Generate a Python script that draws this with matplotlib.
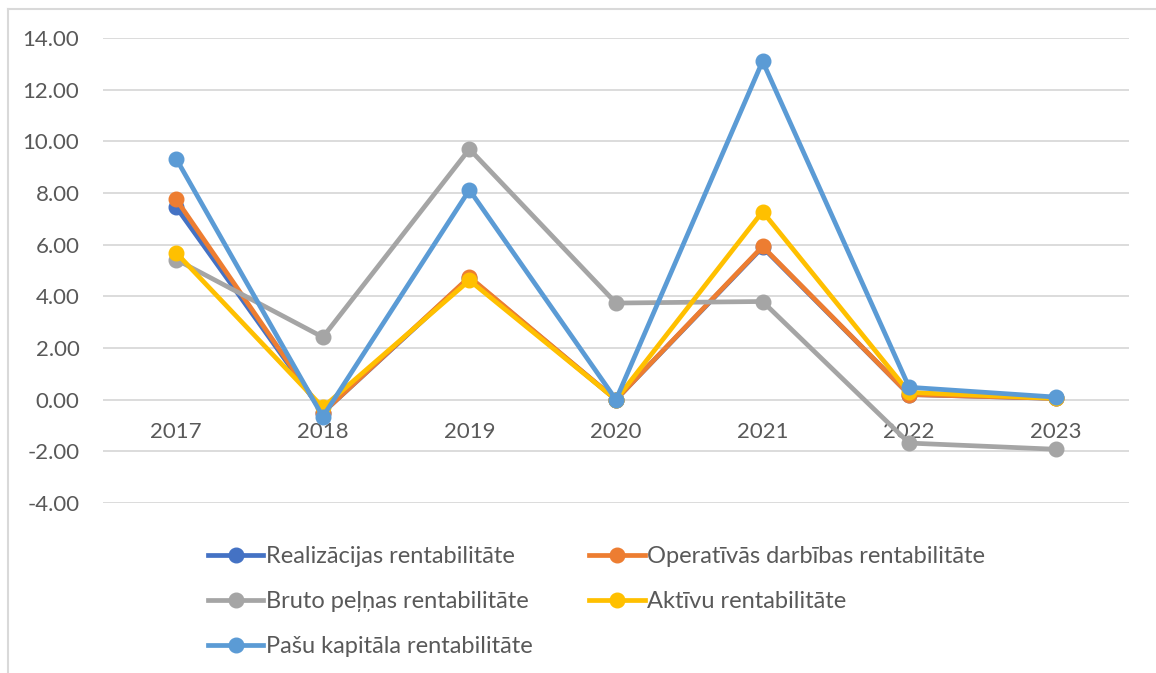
import matplotlib.pyplot as plt
from matplotlib.lines import Line2D

years = ["2017", "2018", "2019", "2020", "2021", "2022", "2023"]
realizacijas = [7.45, -0.5, 4.72, 0.0, 5.9, 0.2, 0.05]
operativas = [7.75, -0.5, 4.75, 0.0, 5.93, 0.2, 0.05]
bruto = [5.42, 2.42, 9.7, 3.74, 3.8, -1.68, -1.92]
aktivu = [5.68, -0.3, 4.62, 0.0, 7.28, 0.28, 0.05]
pasu = [9.32, -0.66, 8.12, 0.0, 13.1, 0.48, 0.1]

labels = [
    "Realizācijas rentabilitāte",
    "Operatīvās darbības rentabilitāte",
    "Bruto peļņas rentabilitāte",
    "Aktīvu rentabilitāte",
    "Pašu kapitāla rentabilitāte",
]
colors = ["#4472C4", "#ED7D31", "#A5A5A5", "#FFC000", "#5B9BD5"]
series = [realizacijas, operativas, bruto, aktivu, pasu]

plt.rcParams["font.family"] = ["Lato", "DejaVu Sans"]
txt = "#595959"
grid = "#D9D9D9"

W, H = 1156, 673
fig = plt.figure(figsize=(W / 100, H / 100), dpi=100)

# outer chart frame (top and left edges only visible)
fig.add_artist(Line2D([8 / W, 8 / W], [0, 1 - 9 / H], color=grid, lw=1.5))
fig.add_artist(Line2D([8 / W, 1], [1 - 9 / H, 1 - 9 / H], color=grid, lw=1.5))

ax = fig.add_axes([103 / W, (H - 503) / H, (1129 - 103) / W, (503 - 38) / H])
x = list(range(len(years)))
handles = []
for vals, c, lab in zip(series, colors, labels):
    (h,) = ax.plot(x, vals, color=c, lw=3.4, marker="o", ms=10.5,
                   solid_joinstyle="round", label=lab, zorder=3)
    handles.append(h)

ax.set_xlim(-0.5, len(years) - 0.5)
ax.set_ylim(-4, 14)
ax.set_yticks(range(-4, 15, 2))
ax.set_yticklabels([f"{v:.2f}" for v in range(-4, 15, 2)])
ax.yaxis.grid(True, color=grid, lw=1.3)
ax.set_axisbelow(True)
for s in ["top", "right", "left"]:
    ax.spines[s].set_visible(False)
ax.spines["bottom"].set_position(("data", 0))
ax.spines["bottom"].set_visible(False)
ax.set_xticks(x)
ax.set_xticklabels(years)
ax.tick_params(axis="both", length=0, labelsize=16, colors=txt)
ax.tick_params(axis="y", pad=17)
ax.tick_params(axis="x", pad=16)

order = [0, 2, 4, 1, 3]
leg = fig.legend([handles[i] for i in order], [labels[i] for i in order],
                 ncol=2, loc="upper left", bbox_to_anchor=(196 / W, 1 - 534 / H),
                 frameon=False, fontsize=17, handlelength=2.35, handletextpad=0.1,
                 columnspacing=2.4, labelspacing=1.02, borderpad=0,
                 labelcolor=txt)

fig.savefig("out.png", dpi=100)
